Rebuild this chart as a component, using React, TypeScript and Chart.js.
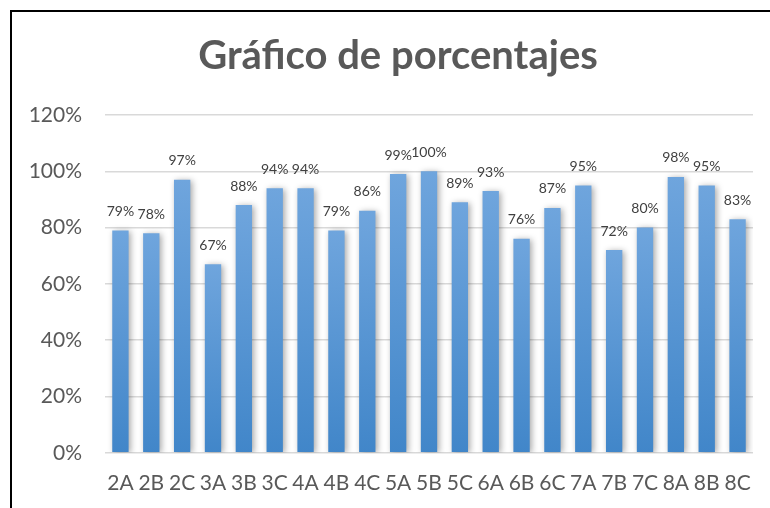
import React, { useEffect, useRef } from "react";
import { Chart, registerables } from "chart.js";

Chart.register(...registerables);

const titleText = "Gráfico de porcentajes";
const categories = ["2A", "2B", "2C", "3A", "3B", "3C", "4A", "4B", "4C", "5A", "5B", "5C", "6A", "6B", "6C", "7A", "7B", "7C", "8A", "8B", "8C"];
const percentages = [79, 78, 97, 67, 88, 94, 94, 79, 86, 99, 100, 89, 93, 76, 87, 95, 72, 80, 98, 95, 83];
const yMax = 120;
const yStep = 20;

const FONT = "Lato, 'Noto Sans', sans-serif";

const shadowPlugin = {
  id: "barShadow",
  beforeDatasetsDraw(chart: any) {
    const ctx = chart.ctx;
    ctx.save();
    ctx.shadowColor = "rgba(0,0,0,0.35)";
    ctx.shadowBlur = 6;
    ctx.shadowOffsetX = 2;
    ctx.shadowOffsetY = 1;
  },
  afterDatasetsDraw(chart: any) {
    chart.ctx.restore();
  },
};

const labelPlugin = {
  id: "valueLabels",
  afterDatasetsDraw(chart: any) {
    const ctx = chart.ctx;
    const meta = chart.getDatasetMeta(0);
    ctx.save();
    ctx.font = `14px ${FONT}`;
    ctx.fillStyle = "#404040";
    ctx.textAlign = "center";
    ctx.textBaseline = "middle";
    meta.data.forEach((bar: any, i: number) => {
      ctx.fillText(`${percentages[i]}%`, bar.x, bar.y - 19);
    });
    ctx.restore();
  },
};

// Title centred on the whole chart frame (not only on the layout box)
const titlePlugin = {
  id: "frameTitle",
  afterDraw(chart: any) {
    const ctx = chart.ctx;
    ctx.save();
    ctx.font = `bold 40px ${FONT}`;
    ctx.fillStyle = "#595959";
    ctx.textAlign = "center";
    ctx.textBaseline = "middle";
    ctx.fillText(titleText, 398, 56);
    ctx.restore();
  },
};

export default function App() {
  const ref = useRef<HTMLCanvasElement | null>(null);
  useEffect(() => {
    if (!ref.current) return;
    const chart = new Chart(ref.current, {
      type: "bar",
      data: {
        labels: categories,
        datasets: [
          {
            data: percentages,
            backgroundColor: (c: any) => {
              const ch = c.chart;
              const y = ch.scales && ch.scales.y;
              if (!y || c.raw == null) return "#5b9bd5";
              const top = y.getPixelForValue(c.raw);
              const bottom = y.getPixelForValue(0);
              if (!isFinite(top) || !isFinite(bottom) || top === bottom) return "#5b9bd5";
              const g = ch.ctx.createLinearGradient(0, top, 0, bottom);
              g.addColorStop(0, "#6fa5dd");
              g.addColorStop(1, "#4186c9");
              return g;
            },
            borderWidth: 0,
            barPercentage: 0.53,
            categoryPercentage: 1,
          },
        ],
      },
      options: {
        animation: false,
        responsive: false,
        maintainAspectRatio: false,
        layout: { padding: { left: 0, right: 43, top: 115, bottom: 12 } },
        plugins: {
          legend: { display: false },
          tooltip: { enabled: false },
          title: { display: false },
        },
        scales: {
          x: {
            grid: { display: false },
            border: { display: false },
            ticks: {
              color: "#595959",
              font: { family: FONT, size: 21 },
              padding: 10,
              maxRotation: 0,
              autoSkip: false,
            },
          },
          y: {
            min: 0,
            max: yMax,
            grid: { color: "#d9d9d9", lineWidth: 1.5, drawTicks: false },
            border: { display: false },
            afterFit(scale: any) {
              scale.width = 105;
            },
            ticks: {
              stepSize: yStep,
              color: "#595959",
              font: { family: FONT, size: 21 },
              padding: 23,
              callback: (v: any) => `${v}%`,
            },
          },
        },
      },
      plugins: [shadowPlugin, labelPlugin, titlePlugin],
    });
    return () => chart.destroy();
  }, []);

  return (
    <div style={{ position: "fixed", left: 0, top: 0, width: 770, height: 508, overflow: "hidden", background: "#fff" }}>
      <canvas ref={ref} width={796} height={518} style={{ position: "absolute", left: 0, top: 0, width: 796, height: 518 }} />
      <div style={{ position: "absolute", left: 10, top: 10, width: 820, height: 600, border: "2px solid #000", boxSizing: "border-box", pointerEvents: "none" }} />
    </div>
  );
}
